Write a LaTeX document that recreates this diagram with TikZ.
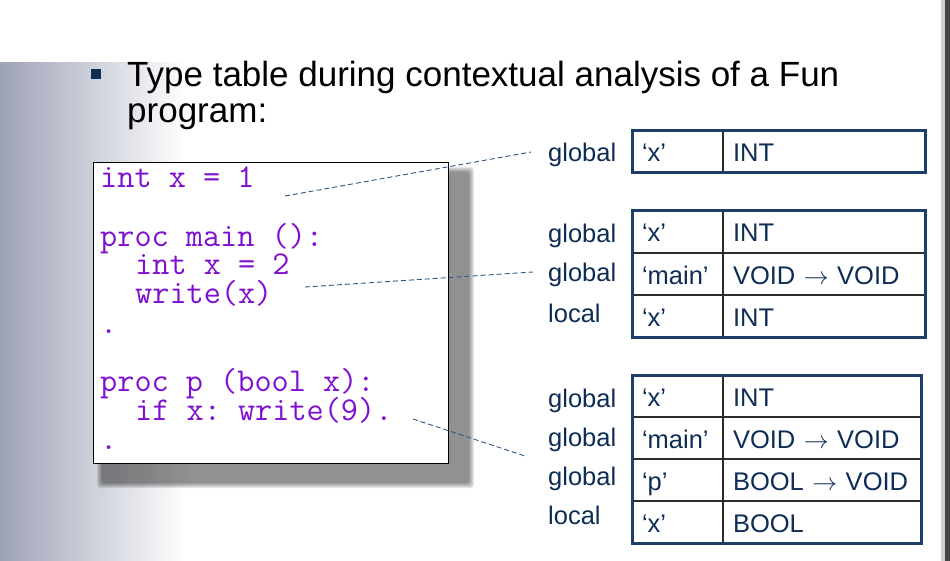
\documentclass[tikz,border=0pt]{standalone}
\usepackage{fontspec}
\setmainfont{Liberation Sans}
\usetikzlibrary{positioning}
\definecolor{SlideNavy}{HTML}{0E2D55}
\definecolor{TableLine}{HTML}{1C3E69}
\definecolor{CellLine}{HTML}{2B2B2B}
\definecolor{CodePurple}{HTML}{7F10D0}
\definecolor{BandGray}{HTML}{9DA2B6}
\definecolor{LinkBlue}{HTML}{2D5682}
\tikzset{
  lbl/.style={anchor=base west,inner sep=0pt,text=SlideNavy,
    font=\fontsize{25.5}{28}\selectfont},
  codeline/.style={anchor=base west,inner sep=0pt,text=CodePurple,
    text height=20pt,text depth=5pt,
    font=\ttfamily\frenchspacing\fontsize{33.3}{29}\selectfont},
  cellA/.style={draw=CellLine,line width=1.2pt,anchor=north west,outer sep=0pt,
    minimum height=42pt,text width=71pt,inner xsep=10pt,inner ysep=0pt,
    text height=20pt,text depth=0pt,text=SlideNavy,font=\fontsize{25.5}{28}\selectfont},
  cellB/.style={cellA,text width=182pt},
  cellC/.style={cellA,text width=178pt},
  link/.style={draw=LinkBlue,line width=0.9pt,dash pattern=on 5pt off 3pt},
  frame/.style={draw=TableLine,line width=3pt}
}
\begin{document}
\begin{tikzpicture}[x=1pt,y=-1pt]
  \useasboundingbox (0,0) rectangle (950,561);
  % slide background
  \shade[left color=BandGray,right color=white] (0,63) rectangle (185,561);
  \fill[gray!35] (941,0) rectangle (945,561);
  \fill[black!72] (945,0) rectangle (950,561);
  % title
  \node[fill=SlideNavy,minimum size=10pt,inner sep=0pt] (bullet) at (96,74) {};
  \node[anchor=base west,inner sep=0pt,font=\fontsize{35}{36}\selectfont] (title)
    at (127,87) {Type table during contextual analysis of a Fun};
  \node[anchor=base west,inner sep=0pt,font=\fontsize{35}{36}\selectfont] (title2)
    at (127,123) {program:};
  % program box with shadow
  \foreach \i in {0,...,5}
    \fill[black,opacity=0.09,rounded corners=3pt] (97+\i,167+\i) rectangle (474-\i,488-\i);
  \node[draw=black,line width=1.2pt,fill=white,anchor=north west,inner sep=0pt,
    minimum width=355pt,minimum height=301pt] (codebox) at (93,162) {};
  \node[codeline] (ln1) at (100,188) {int x = 1};
  \node[codeline] (ln2) at (100,247) {proc main ():};
  \node[codeline] (ln3) at (135,275) {int x = 2};
  \node[codeline] (ln4) at (135,304) {write(x)};
  \node[codeline] (ln5) at (100,333) {.};
  \node[codeline] (ln6) at (100,391) {proc p (bool x):};
  \node[codeline] (ln7) at (135,420) {if x: write(9).};
  \node[codeline] (ln8) at (100,449) {.};
  % table after line 1
  \node[lbl] (s1a) at (548,162) {global};
  \node[cellA] (t1a1) at (632,131) {‘x’};
  \node[cellB,right=0pt of t1a1] (t1b1) {INT};
  \draw[frame] (t1a1.north west) rectangle (t1b1.south east);
  % table inside main
  \node[lbl] (s2a) at (548,243) {global};
  \node[lbl] (s2b) at (548,282) {global};
  \node[lbl] (s2c) at (548,322) {local};
  \node[cellA] (t2a1) at (632,211) {‘x’};
  \node[cellA,below=0pt of t2a1] (t2a2) {‘main’};
  \node[cellA,below=0pt of t2a2] (t2a3) {‘x’};
  \node[cellB,right=0pt of t2a1] (t2b1) {INT};
  \node[cellB,right=0pt of t2a2] (t2b2) {VOID $\rightarrow$ VOID};
  \node[cellB,right=0pt of t2a3] (t2b3) {INT};
  \draw[frame] (t2a1.north west) rectangle (t2b3.south east);
  % table inside p
  \node[lbl] (s3a) at (548,407) {global};
  \node[lbl] (s3b) at (548,446) {global};
  \node[lbl] (s3c) at (548,485) {global};
  \node[lbl] (s3d) at (548,524) {local};
  \node[cellA] (t3a1) at (632,375) {‘x’};
  \node[cellA,below=0pt of t3a1] (t3a2) {‘main’};
  \node[cellA,below=0pt of t3a2] (t3a3) {‘p’};
  \node[cellA,below=0pt of t3a3] (t3a4) {‘x’};
  \node[cellC,right=0pt of t3a1] (t3b1) {INT};
  \node[cellC,right=0pt of t3a2] (t3b2) {VOID $\rightarrow$ VOID};
  \node[cellC,right=0pt of t3a3] (t3b3) {BOOL $\rightarrow$ VOID};
  \node[cellC,right=0pt of t3a4] (t3b4) {BOOL};
  \draw[frame] (t3a1.north west) rectangle (t3b4.south east);
  % dashed links
  \coordinate (p1) at (285,196);
  \coordinate (q1) at (531,152);
  \coordinate (p2) at (305,287);
  \coordinate (q2) at (533,272);
  \coordinate (p3) at (413,419);
  \coordinate (q3) at (525,456);
  \draw[link] (p1) -- (q1);
  \draw[link] (p2) -- (q2);
  \draw[link] (p3) -- (q3);
\end{tikzpicture}
\end{document}
